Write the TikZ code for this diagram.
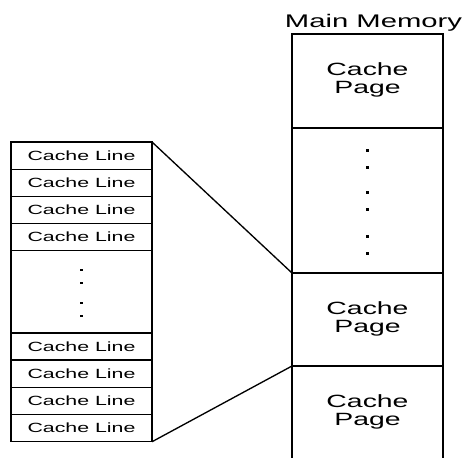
\documentclass[tikz,border=0pt]{standalone}
\usepackage{fontspec}
\setmainfont{Liberation Sans}
\newfontfamily\widesans[FakeStretch=1.6]{Liberation Sans}
\usepackage{tikz}
\usetikzlibrary{matrix,positioning}

\newcommand\cachepage{\begin{tabular}{@{}c@{}}Cache\\Page\end{tabular}}

\begin{document}
\begin{tikzpicture}[line width=1pt]
			\useasboundingbox (0,0) rectangle (349.5pt,-342.75pt);
			\matrix (cl) [matrix of nodes, nodes in empty cells, anchor=north west, inner sep=0pt, outer sep=0pt, row sep=-\pgflinewidth,
				nodes={draw, inner sep=0pt, outer sep=0pt, minimum width=105.75pt, minimum height=20.4pt,
					font=\widesans\fontsize{10}{12}\selectfont}]
			at (7.75pt,-106pt)
			{
				Cache Line \\
				Cache Line \\
				Cache Line \\
				Cache Line \\
				|[minimum height=61.6pt]| \\
				Cache Line \\
				Cache Line \\
				Cache Line \\
				Cache Line \\
			};
			\matrix (mm) [matrix of nodes, nodes in empty cells, anchor=north west, inner sep=0pt, outer sep=0pt, row sep=-\pgflinewidth,
				nodes={draw, inner sep=0pt, outer sep=0pt, minimum width=113.25pt, minimum height=69.75pt,
					font=\widesans\fontsize{13.3}{13.2}\selectfont}]
			at (218.5pt,-25pt)
			{
				|[minimum height=70.5pt]| \cachepage \\
				|[minimum height=108.75pt]| \\
				\cachepage \\
				\cachepage \\
			};
			\node (mmtitle) [above=1.5pt of mm, xshift=4.5pt, inner sep=0pt, outer sep=0pt,
				font=\widesans\fontsize{13.7}{15}\selectfont] {Main Memory};
			% dots
			\foreach \dy in {16.5,6.75,-8.25,-18}
				\fill ([yshift=\dy pt]cl-5-1.center) +(-1.1pt,-0.9pt) rectangle +(1.1pt,0.9pt);
			\foreach \dy in {37.5,24.75,6,-6.75,-27,-39.75}
				\fill ([yshift=\dy pt]mm-2-1.center) +(-1.4pt,-1pt) rectangle +(1.4pt,1pt);
			\path
			(cl-1-1.north east) edge (mm-3-1.north west)
			(cl-9-1.south east) edge (mm-4-1.north west);
		\end{tikzpicture}
\end{document}
